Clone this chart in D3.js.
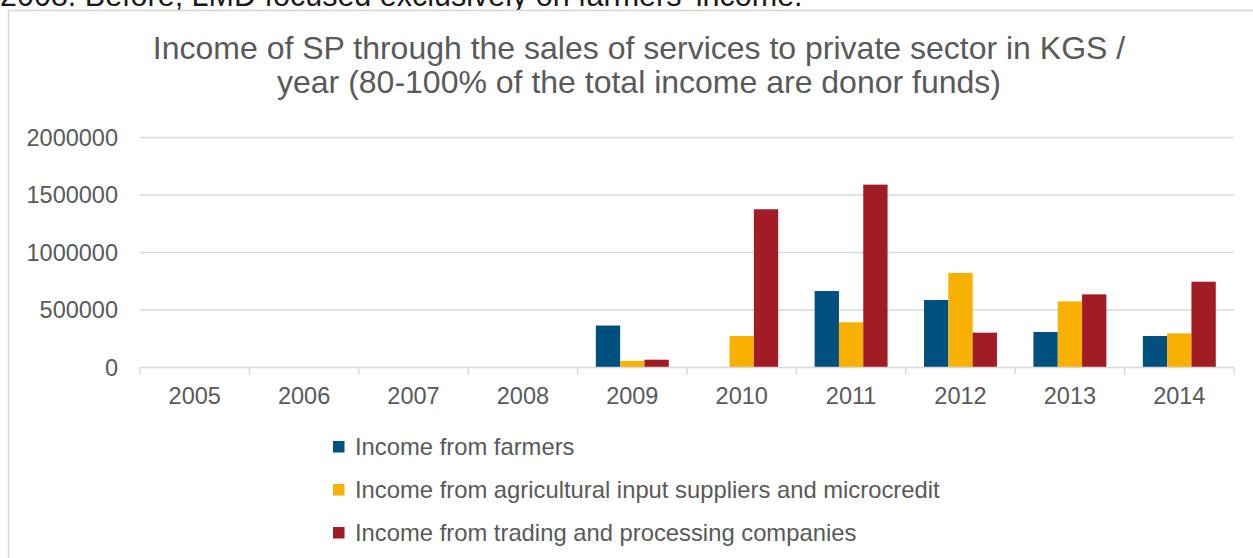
<!DOCTYPE html>
<html>
<head>
<meta charset="utf-8">
<script src="https://cdn.jsdelivr.net/npm/d3@7/dist/d3.min.js"></script>
<style>
  html, body { margin: 0; padding: 0; background: #fff; }
  svg { display: block; }
  text { font-family: "Liberation Sans", Arial, sans-serif; }
</style>
</head>
<body>
<svg id="chart" width="1253" height="558"></svg>
<script>
// Income of SP by client group, KGS per year
const years = ["2005", "2006", "2007", "2008", "2009", "2010", "2011", "2012", "2013", "2014"];
const seriesNames = [
  "Income from farmers",
  "Income from agricultural input suppliers and microcredit",
  "Income from trading and processing companies"
];
const incomeFarmers   = [0, 0, 0, 0, 365000, 0, 665000, 587000, 309000, 274000];
const incomeSuppliers = [0, 0, 0, 0, 57000, 274000, 393000, 822000, 575000, 297000];
const incomeTrading   = [0, 0, 0, 0, 68000, 1376000, 1590000, 303000, 636000, 746000];
const yTicks = [0, 500000, 1000000, 1500000, 2000000];
const titleLines = [
  "Income of SP through the sales of services to private sector in KGS /",
  "year (80-100% of the total income are donor funds)"
];
const leadText = "2008. Before, LMD focused exclusively on farmers' income.";

const seriesValues = [incomeFarmers, incomeSuppliers, incomeTrading];
const colors = ["#00507f", "#f8b100", "#a21c25"];

const svg = d3.select("#chart");

// Running text above the chart frame
svg.append("text")
  .attr("x", 0).attr("y", 6)
  .attr("font-size", 30.5).attr("fill", "#1a1a1a")
  .text(leadText);

// Chart frame
svg.append("rect")
  .attr("x", 8.5).attr("y", 10.5)
  .attr("width", 1260).attr("height", 600)
  .attr("fill", "#fff")
  .attr("stroke", "#d6d6d6").attr("stroke-width", 1.5);

// Title
const title = svg.append("text")
  .attr("text-anchor", "middle")
  .attr("font-size", 32)
  .attr("fill", "#595959");
titleLines.forEach((line, i) => {
  title.append("tspan").attr("x", 639).attr("y", 59 + i * 34).text(line);
});

// Scales
const x = d3.scaleBand().domain(years).range([140, 1234]).paddingInner(0).paddingOuter(0);
const xs = d3.scaleBand().domain(d3.range(seriesValues.length))
  .range([0, x.bandwidth()]).paddingInner(0).paddingOuter(0.75);
const y = d3.scaleLinear().domain([0, 2000000]).range([367.5, 137.5]);

// Gridlines
svg.append("g")
  .selectAll("line")
  .data(yTicks.filter(d => d > 0))
  .join("line")
  .attr("x1", 140).attr("x2", 1234)
  .attr("y1", d => y(d)).attr("y2", d => y(d))
  .attr("stroke", "#d9d9d9").attr("stroke-width", 1.3);

// Y axis labels
const yAxis = d3.axisLeft(y).tickValues(yTicks).tickFormat(d3.format("d")).tickSize(0).tickPadding(22);
const gy = svg.append("g").attr("transform", "translate(140,0)").call(yAxis);
gy.select(".domain").remove();
gy.selectAll("text")
  .attr("font-family", "Liberation Sans, Arial, sans-serif")
  .attr("font-size", 23.5).attr("fill", "#595959");

// Bars
const groups = svg.append("g")
  .selectAll("g")
  .data(years)
  .join("g")
  .attr("transform", d => `translate(${x(d)},0)`);

groups.selectAll("rect")
  .data((d, i) => seriesValues.map((vals, s) => ({ s, v: vals[i] })))
  .join("rect")
  .attr("x", d => xs(d.s))
  .attr("width", xs.bandwidth())
  .attr("y", d => y(d.v))
  .attr("height", d => y(0) - y(d.v))
  .attr("fill", d => colors[d.s]);

// X axis line, category ticks and labels
const xAxis = d3.axisBottom(x).tickSize(0).tickPadding(20);
const gx = svg.append("g").attr("transform", `translate(0,${y(0)})`).call(xAxis);
gx.select(".domain").remove();
gx.selectAll("text")
  .attr("font-family", "Liberation Sans, Arial, sans-serif")
  .attr("font-size", 23.5).attr("fill", "#595959");

svg.append("line")
  .attr("x1", 140).attr("x2", 1234)
  .attr("y1", y(0)).attr("y2", y(0))
  .attr("stroke", "#d9d9d9").attr("stroke-width", 1.5);

const boundaries = years.map(d => x(d)).concat([x(years[years.length - 1]) + x.bandwidth()]);
svg.append("g")
  .selectAll("line")
  .data(boundaries)
  .join("line")
  .attr("x1", d => d).attr("x2", d => d)
  .attr("y1", y(0)).attr("y2", y(0) + 7)
  .attr("stroke", "#d9d9d9").attr("stroke-width", 1.5);

// Legend
const legend = svg.append("g")
  .selectAll("g")
  .data(seriesNames)
  .join("g")
  .attr("transform", (d, i) => `translate(333,${447 + i * 43})`);

legend.append("rect")
  .attr("x", 0).attr("y", -6)
  .attr("width", 11.5).attr("height", 11.5)
  .attr("fill", (d, i) => colors[i]);

legend.append("text")
  .attr("x", 22).attr("y", 0).attr("dy", "0.35em")
  .attr("font-size", 23.8).attr("fill", "#595959")
  .text(d => d);
</script>
</body>
</html>
